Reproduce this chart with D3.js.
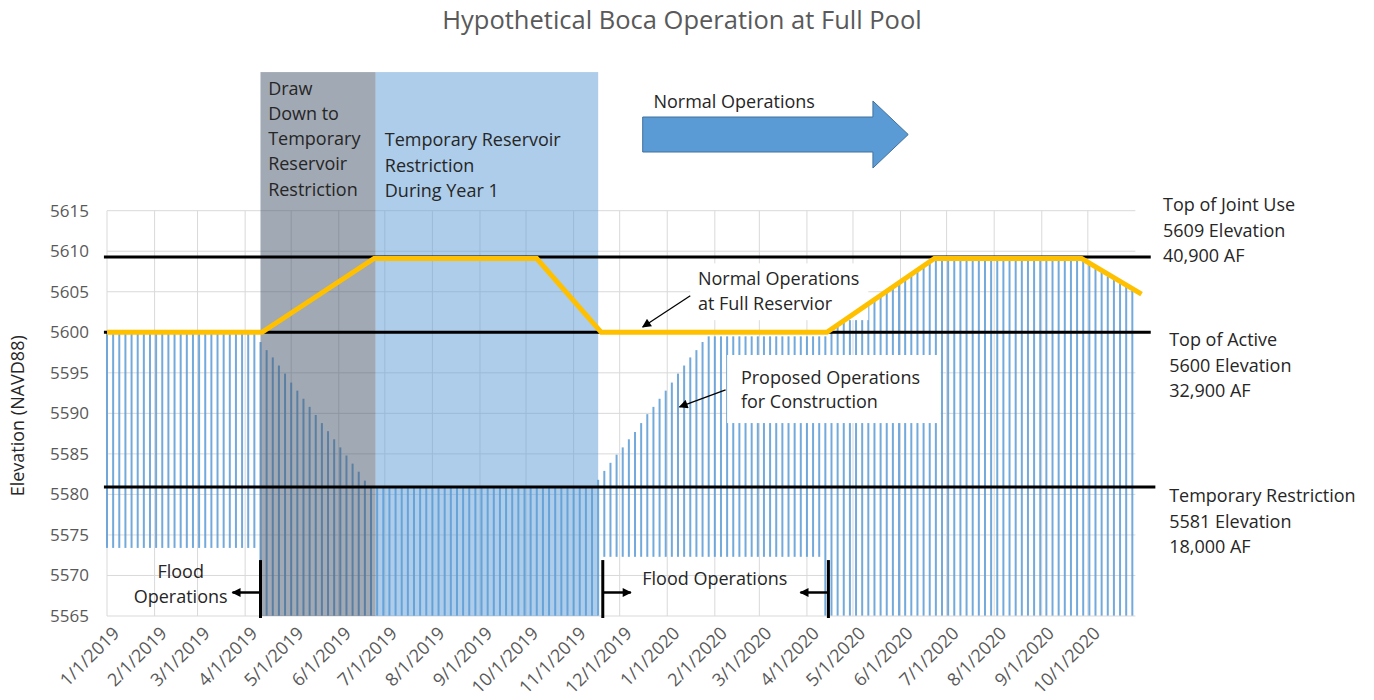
<!DOCTYPE html>
<html>
<head>
<meta charset="utf-8">
<script src="https://cdn.jsdelivr.net/npm/d3@7"></script>
<style>
  body { margin: 0; background: #fff; }
  text { font-family: "Open Sans", sans-serif; }
</style>
</head>
<body>
<div id="chart"></div>
<script>
// reservoir elevations (bars every 4 days from 1/1/2019)
const barStart = '2019-01-01'
    , barStepDays = 4
    ;

const barTops = [
  5600, 5600, 5600, 5600, 5600, 5600, 5600, 5600, 5600, 5600,
  5600, 5600, 5600, 5600, 5600, 5600, 5600, 5600, 5600, 5600,
  5600, 5600, 5600, 5600, 5600,
  5598.8, 5597.8, 5596.9, 5595.9, 5594.9, 5593.8, 5592.8, 5591.8, 5590.8, 5589.8,
  5588.8, 5587.8, 5586.8, 5585.8, 5584.8, 5583.8, 5582.8, 5581.7,
  5581, 5581, 5581, 5581, 5581, 5581, 5581, 5581, 5581, 5581,
  5581, 5581, 5581, 5581, 5581, 5581, 5581, 5581, 5581, 5581,
  5581, 5581, 5581, 5581, 5581, 5581, 5581, 5581, 5581, 5581,
  5581, 5581, 5581, 5581, 5581, 5581, 5581,
  5581.8,
  5582.9, 5583.9, 5584.9, 5585.8, 5586.8, 5587.7, 5588.8, 5589.9, 5590.8, 5591.8,
  5592.8, 5593.8, 5594.9, 5595.9, 5596.9, 5597.8, 5598.8,
  5599.5, 5599.5, 5599.5, 5599.5, 5599.5, 5599.5, 5599.5, 5599.5, 5599.5, 5599.5,
  5599.5, 5599.5, 5599.5, 5599.5, 5599.5, 5599.5, 5599.5, 5599.5, 5599.5, 5599.5,
  5600.5, 5601.0, 5601.6, 5602.1, 5602.6, 5603.1, 5603.6, 5604.2, 5604.7, 5605.2,
  5605.7, 5606.2, 5606.7, 5607.3, 5607.8, 5608.3, 5608.8,
  5609, 5609, 5609, 5609, 5609, 5609, 5609, 5609, 5609, 5609,
  5609, 5609, 5609, 5609, 5609, 5609, 5609, 5609, 5609, 5609,
  5609, 5609, 5609, 5609,
  5608.8, 5608.4, 5607.8, 5607.4, 5606.9, 5606.5, 5606.0, 5605.6, 5605.1
];

const barBottoms = [
  5573.4, 5573.4, 5573.4, 5573.4, 5573.4, 5573.4, 5573.4, 5573.4, 5573.4, 5573.4,
  5573.4, 5573.4, 5573.4, 5573.4, 5573.4, 5573.4, 5573.4, 5573.4, 5573.4, 5573.4,
  5573.4, 5573.4, 5573.4, 5573.4, 5573.4,
  5565, 5565, 5565, 5565, 5565, 5565, 5565, 5565, 5565, 5565,
  5565, 5565, 5565, 5565, 5565, 5565, 5565, 5565, 5565, 5565,
  5565, 5565, 5565, 5565, 5565, 5565, 5565, 5565, 5565, 5565,
  5565, 5565, 5565, 5565, 5565, 5565, 5565, 5565, 5565, 5565,
  5565, 5565, 5565, 5565, 5565, 5565, 5565, 5565, 5565, 5565,
  5565, 5565, 5565, 5565, 5565, 5565,
  5572.3, 5572.3, 5572.3, 5572.3, 5572.3, 5572.3, 5572.3, 5572.3, 5572.3, 5572.3,
  5572.3, 5572.3, 5572.3, 5572.3, 5572.3, 5572.3, 5572.3, 5572.3, 5572.3, 5572.3,
  5572.3, 5572.3, 5572.3, 5572.3, 5572.3, 5572.3, 5572.3, 5572.3, 5572.3, 5572.3,
  5572.3, 5572.3, 5572.3, 5572.3, 5572.3, 5572.3,
  5565, 5565, 5565, 5565, 5565, 5565, 5565, 5565, 5565, 5565,
  5565, 5565, 5565, 5565, 5565, 5565, 5565, 5565, 5565, 5565,
  5565, 5565, 5565, 5565, 5565, 5565, 5565, 5565, 5565, 5565,
  5565, 5565, 5565, 5565, 5565, 5565, 5565, 5565, 5565, 5565,
  5565, 5565, 5565, 5565, 5565, 5565, 5565, 5565, 5565, 5565,
  5565
];

// normal operations (orange)
const normalDates  = ['2019-01-01', '2019-04-12', '2019-06-24', '2019-10-08', '2019-11-19', '2020-04-14', '2020-06-23', '2020-09-27', '2020-11-05'];
const normalValues = [5600, 5600, 5609.1, 5609.1, 5600, 5600, 5609.1, 5609.1, 5604.7];

// reference elevations
const refValues = [5609.3, 5600, 5580.9];
const refEnds   = ['2020-11-11', '2020-11-11', '2020-11-14'];
const refLabels = [
  ['Top of Joint Use', '5609 Elevation', '40,900 AF'],
  ['Top of Active', '5600 Elevation', '32,900 AF'],
  ['Temporary Restriction', '5581 Elevation', '18,000 AF']
];
const refLabelDates  = ['2020-11-19', '2020-11-23', '2020-11-23'];
const refLabelValues = [5615.7, 5599.05, 5579.8];

const yTicks = [5565, 5570, 5575, 5580, 5585, 5590, 5595, 5600, 5605, 5610, 5615];

// periods
const periodStarts = ['2019-04-11', '2019-06-25'];
const periodEnds   = ['2019-06-25', '2019-11-17'];
const periodTop    = 5632.1;
const periodText   = [
  ['Draw', 'Down to', 'Temporary', 'Reservoir', 'Restriction'],
  ['Temporary Reservoir', 'Restriction', 'During Year 1']
];
const periodTextDates  = ['2019-04-16', '2019-07-01'];
const periodTextValues = [5630.1, 5623.7];

// flood operations markers
const floodDates = ['2019-04-11', '2019-11-20', '2020-04-15'];
const floodDirs  = [-1, 1, -1];

const parse = d3.timeParse('%Y-%m-%d');

const width = 1374
    , height = 700
    , axisColor = '#595959'
    , noteColor = '#262626'
    , gridColor = '#d9d9d9'
    , barColor = '#5b9bd5'
    , noteSize = 18
    ;

const x = d3.scaleTime()
    .domain([parse('2019-01-01'), parse('2020-11-01')])
    .range([107, 1135.4]);

const y = d3.scaleLinear()
    .domain([5565, 5615])
    .range([616, 210.7]);

const at = (d, v) => [x(parse(d)), y(v)];

const bars = barTops.map((top, i) => ({
  date: d3.timeDay.offset(parse(barStart), i * barStepDays),
  top: top,
  bottom: barBottoms[i]
}));

const svg = d3.select('#chart')
  .append('svg')
    .attr('width', width)
    .attr('height', height);

svg.append('defs').append('marker')
    .attr('id', 'head')
    .attr('viewBox', '0 0 10 10')
    .attr('refX', 9)
    .attr('refY', 5)
    .attr('markerWidth', 10)
    .attr('markerHeight', 9)
    .attr('markerUnits', 'userSpaceOnUse')
    .attr('orient', 'auto')
  .append('path')
    .attr('d', 'M0,0L10,5L0,10Z')
    .attr('fill', '#000');

// title
svg.append('text')
    .attr('x', 682)
    .attr('y', 29)
    .attr('text-anchor', 'middle')
    .attr('font-size', 25.5)
    .attr('fill', axisColor)
    .text('Hypothetical Boca Operation at Full Pool');

// gridlines
const months = d3.timeMonth.range(parse('2019-01-01'), parse('2020-10-02'));

svg.append('g')
    .attr('stroke', gridColor)
  .selectAll('line')
  .data(yTicks.slice(1))
  .join('line')
    .attr('x1', x.range()[0])
    .attr('x2', x.range()[1])
    .attr('y1', d => y(d))
    .attr('y2', d => y(d));

svg.append('g')
    .attr('stroke', gridColor)
  .selectAll('line')
  .data(months)
  .join('line')
    .attr('x1', d => x(d))
    .attr('x2', d => x(d))
    .attr('y1', y(5565))
    .attr('y2', y(5615));

// bars
svg.append('g')
    .attr('fill', barColor)
    .attr('fill-opacity', 0.85)
  .selectAll('rect')
  .data(bars)
  .join('rect')
    .attr('x', d => x(d.date) - 1)
    .attr('width', 2)
    .attr('y', d => y(d.top))
    .attr('height', d => y(d.bottom) - y(d.top));

// bottom axis line
svg.append('line')
    .attr('x1', x.range()[0])
    .attr('x2', x.range()[1])
    .attr('y1', y(5565))
    .attr('y2', y(5565))
    .attr('stroke', gridColor);

// white text boxes
const boxes = [
  { d0: '2020-01-16', d1: '2020-05-11', v0: 5608.5, v1: 5601.5 },
  { d0: '2020-02-09', d1: '2020-06-27', v0: 5597.2, v1: 5588.8 }
];
svg.append('g')
    .attr('fill', '#fff')
  .selectAll('rect')
  .data(boxes)
  .join('rect')
    .attr('x', d => x(parse(d.d0)))
    .attr('y', d => y(d.v0))
    .attr('width', d => x(parse(d.d1)) - x(parse(d.d0)))
    .attr('height', d => y(d.v1) - y(d.v0));

// shaded periods
svg.append('g')
  .selectAll('rect')
  .data(periodStarts)
  .join('rect')
    .attr('x', d => x(parse(d)))
    .attr('y', y(periodTop))
    .attr('width', (d, i) => x(parse(periodEnds[i])) - x(parse(d)))
    .attr('height', y(5565) - y(periodTop))
    .attr('fill', (d, i) => i === 0 ? '#44546a' : '#5b9bd5')
    .attr('fill-opacity', 0.5);

periodText.forEach((lines, i) => {
  const [tx, ty] = at(periodTextDates[i], periodTextValues[i]);
  svg.append('text')
      .attr('font-size', noteSize)
      .attr('fill', noteColor)
    .selectAll('tspan')
    .data(lines)
    .join('tspan')
      .attr('x', tx)
      .attr('y', (d, j) => ty + j * 25.3)
      .attr('dy', '0.35em')
      .text(d => d);
});

// reference lines
svg.append('g')
    .attr('stroke', '#000')
    .attr('stroke-width', 3)
  .selectAll('line')
  .data(refValues)
  .join('line')
    .attr('x1', x(parse('2018-12-30')))
    .attr('x2', (d, i) => x(parse(refEnds[i])))
    .attr('y1', d => y(d))
    .attr('y2', d => y(d));

refLabels.forEach((lines, i) => {
  const [tx, ty] = at(refLabelDates[i], refLabelValues[i]);
  svg.append('text')
      .attr('font-size', noteSize)
      .attr('fill', noteColor)
    .selectAll('tspan')
    .data(lines)
    .join('tspan')
      .attr('x', tx)
      .attr('y', (d, j) => ty + j * 25.3)
      .attr('dy', '0.35em')
      .text(d => d);
});

// normal operations line
const line = d3.line()
    .x(d => x(d[0]))
    .y(d => y(d[1]));

svg.append('path')
    .datum(normalDates.map((d, i) => [parse(d), normalValues[i]]))
    .attr('d', line)
    .attr('fill', 'none')
    .attr('stroke', '#ffc000')
    .attr('stroke-width', 5)
    .attr('stroke-linejoin', 'miter');

// y axis labels
svg.append('g')
    .attr('font-size', 17)
    .attr('fill', axisColor)
    .attr('text-anchor', 'end')
  .selectAll('text')
  .data(yTicks)
  .join('text')
    .attr('x', 89)
    .attr('y', d => y(d))
    .attr('dy', '0.35em')
    .text(d => d);

svg.append('text')
    .attr('transform', `translate(18,${y(5589.7)}) rotate(-90)`)
    .attr('text-anchor', 'middle')
    .attr('dy', '0.35em')
    .attr('font-size', noteSize)
    .attr('fill', noteColor)
    .text('Elevation (NAVD88)');

// x tick labels
const fmt = d3.timeFormat('%-m/%-d/%Y');
svg.append('g')
    .attr('font-size', 18)
    .attr('fill', axisColor)
    .attr('text-anchor', 'end')
  .selectAll('text')
  .data(months)
  .join('text')
    .attr('transform', d => `translate(${x(d) + 9},${y(5565) + 14}) rotate(-45)`)
    .attr('dy', '0.35em')
    .text(d => fmt(d));

// flood operations markers
floodDates.forEach((d, i) => {
  const fx = x(parse(d))
      , ay = y(5567.9)
      ;
  svg.append('line')
      .attr('x1', fx).attr('x2', fx)
      .attr('y1', y(5571.9)).attr('y2', y(5565) + 2)
      .attr('stroke', '#000')
      .attr('stroke-width', 3);
  svg.append('line')
      .attr('x1', fx).attr('x2', fx + floodDirs[i] * 28)
      .attr('y1', ay).attr('y2', ay)
      .attr('stroke', '#000')
      .attr('stroke-width', 2.5)
      .attr('marker-end', 'url(#head)');
});

const floodNotes = [
  { d: '2019-02-18', v: 5570.5, t: 'Flood' },
  { d: '2019-02-18', v: 5567.4, t: 'Operations' },
  { d: '2020-02-01', v: 5569.6, t: 'Flood Operations' }
];
svg.append('g')
    .attr('font-size', noteSize)
    .attr('fill', noteColor)
    .attr('text-anchor', 'middle')
  .selectAll('text')
  .data(floodNotes)
  .join('text')
    .attr('x', d => x(parse(d.d)))
    .attr('y', d => y(d.v))
    .attr('dy', '0.35em')
    .text(d => d.t);

// callouts
const callouts = [
  { d: '2020-01-21', v: 5606.6, lines: ['Normal Operations', 'at Full Reservior'],
    from: ['2020-01-16', 5604.5], to: ['2019-12-16', 5600.65] },
  { d: '2020-02-18', v: 5594.4, lines: ['Proposed Operations', 'for Construction'],
    from: ['2020-02-08', 5592.9], to: ['2020-01-09', 5590.8] }
];
callouts.forEach(c => {
  const [tx, ty] = at(c.d, c.v)
      , [x1, y1] = at(c.from[0], c.from[1])
      , [x2, y2] = at(c.to[0], c.to[1])
      ;
  svg.append('text')
      .attr('font-size', noteSize)
      .attr('fill', noteColor)
    .selectAll('tspan')
    .data(c.lines)
    .join('tspan')
      .attr('x', tx)
      .attr('y', (d, j) => ty + j * 24.5)
      .attr('dy', '0.35em')
      .text(d => d);
  svg.append('line')
      .attr('x1', x1).attr('y1', y1)
      .attr('x2', x2).attr('y2', y2)
      .attr('stroke', '#000')
      .attr('stroke-width', 1.3)
      .attr('marker-end', 'url(#head)');
});

// big "Normal Operations" arrow
const tail = x(parse('2019-12-16'))
    , neck = x(parse('2020-05-14'))
    , tip = x(parse('2020-06-06'))
    , cy = y(5624.4)
    ;
svg.append('path')
    .attr('d', `M${tail},${cy - 17.5}H${neck}V${cy - 33.5}L${tip},${cy}L${neck},${cy + 33.5}V${cy + 17.5}H${tail}Z`)
    .attr('fill', barColor)
    .attr('stroke', '#41719c')
    .attr('stroke-width', 1);

svg.append('text')
    .attr('x', x(parse('2019-12-23')))
    .attr('y', y(5628.5))
    .attr('dy', '0.35em')
    .attr('font-size', noteSize)
    .attr('fill', noteColor)
    .text('Normal Operations');
</script>
</body>
</html>
